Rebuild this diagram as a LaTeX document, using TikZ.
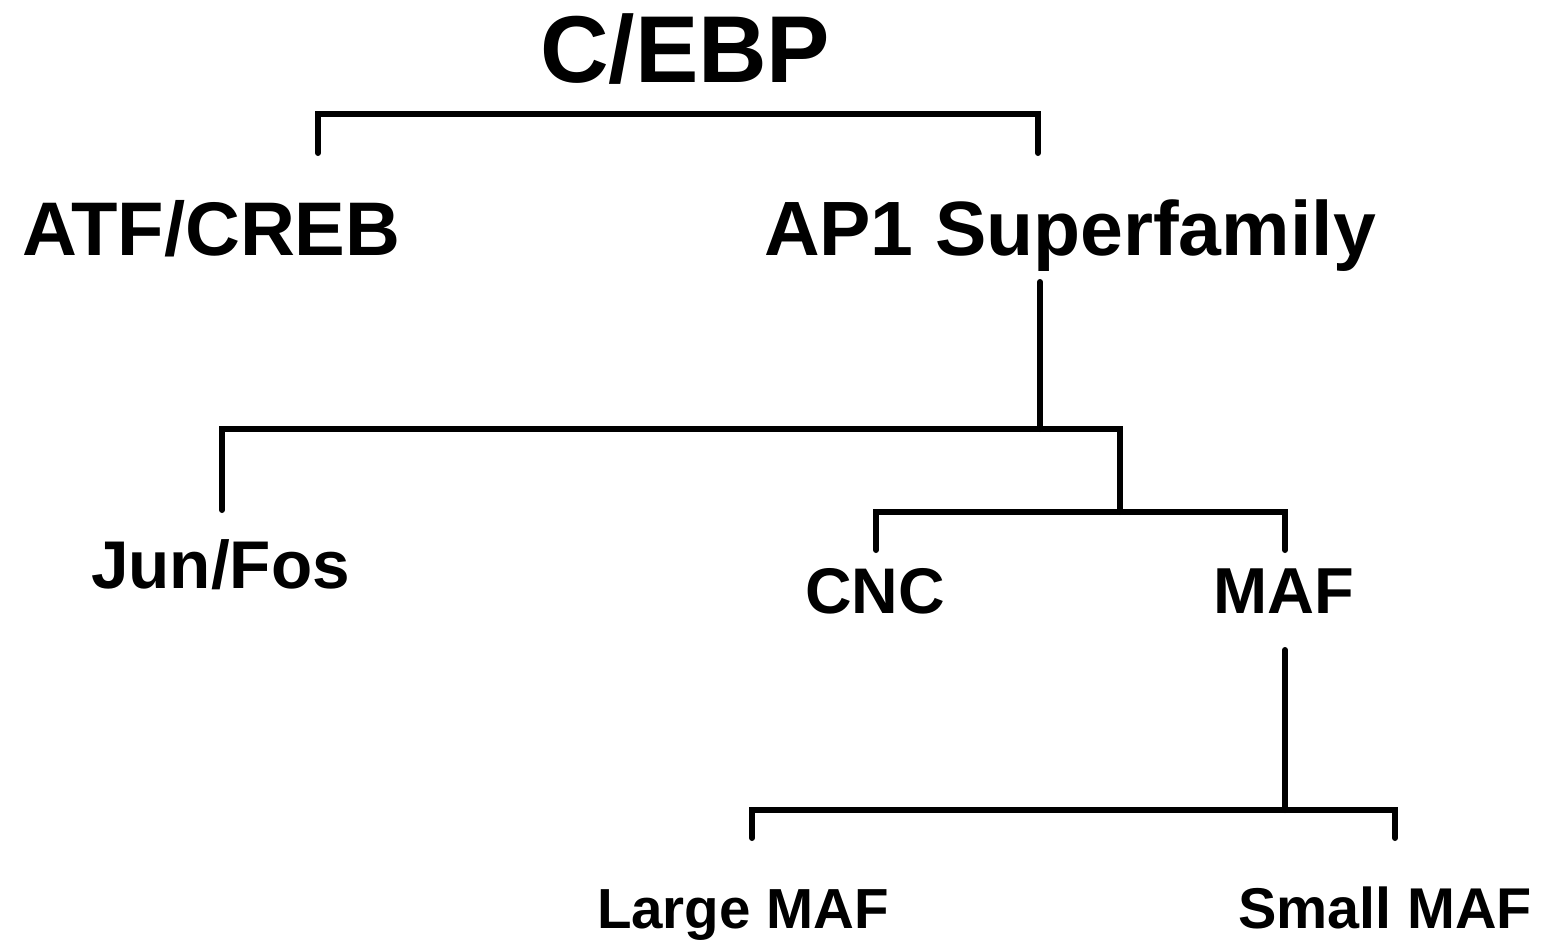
\documentclass[tikz,border=0pt]{standalone}
\usepackage{fontspec}
\setmainfont{Liberation Sans}
\begin{document}
\begin{tikzpicture}[x=1pt,y=-1pt,
  lbl/.style={anchor=base west,inner sep=0pt,outer sep=0pt,font=\bfseries},
  conn/.style={line width=6pt,line cap=round,line join=miter}]
\useasboundingbox[fill=white] (0,0) rectangle (1552,945);
% labels
\node[lbl,font=\bfseries\fontsize{95}{95}\selectfont] (cebp) at (540,82) {C/EBP};
\node[lbl,font=\bfseries\fontsize{76}{76}\selectfont] (atf) at (22,255) {ATF/CREB};
\node[lbl,font=\bfseries\fontsize{77}{77}\selectfont] (ap1) at (764,255) {AP1 Superfamily};
\node[lbl,font=\bfseries\fontsize{67.5}{67.5}\selectfont] (jun) at (91,588) {Jun/Fos};
\node[lbl,font=\bfseries\fontsize{64.5}{64.5}\selectfont] (cnc) at (805,613) {CNC};
\node[lbl,font=\bfseries\fontsize{65}{65}\selectfont] (maf) at (1213,613) {MAF};
\node[lbl,font=\bfseries\fontsize{56.5}{56.5}\selectfont] (lmaf) at (597,928) {Large MAF};
\node[lbl,font=\bfseries\fontsize{57.5}{57.5}\selectfont] (smaf) at (1238,928) {Small MAF};
% bracket anchor points
\coordinate (b1l) at (318,153);
\coordinate (b1r) at (1038,153);
\coordinate (ap1s) at (1040,282);
\coordinate (b2m) at (1040,429);
\coordinate (b2l) at (222,510);
\coordinate (b2r) at (1120,429);
\coordinate (b3m) at (1120,512);
\coordinate (b3l) at (876,550);
\coordinate (b3r) at (1285,550);
\coordinate (mafs) at (1285,650);
\coordinate (b4m) at (1285,810);
\coordinate (b4l) at (752,838);
\coordinate (b4r) at (1395,838);
% connectors
\draw[conn] (b1l) -- ++(0,-39) -| (b1r);
\draw[conn] (ap1s) -- (b2m);
\draw[conn] (b2l) |- (b2r) -- (b3m);
\draw[conn] (b3l) |- (b3m) -| (b3r);
\draw[conn] (mafs) -- (b4m);
\draw[conn] (b4l) |- (b4m) -| (b4r);
\end{tikzpicture}
\end{document}
